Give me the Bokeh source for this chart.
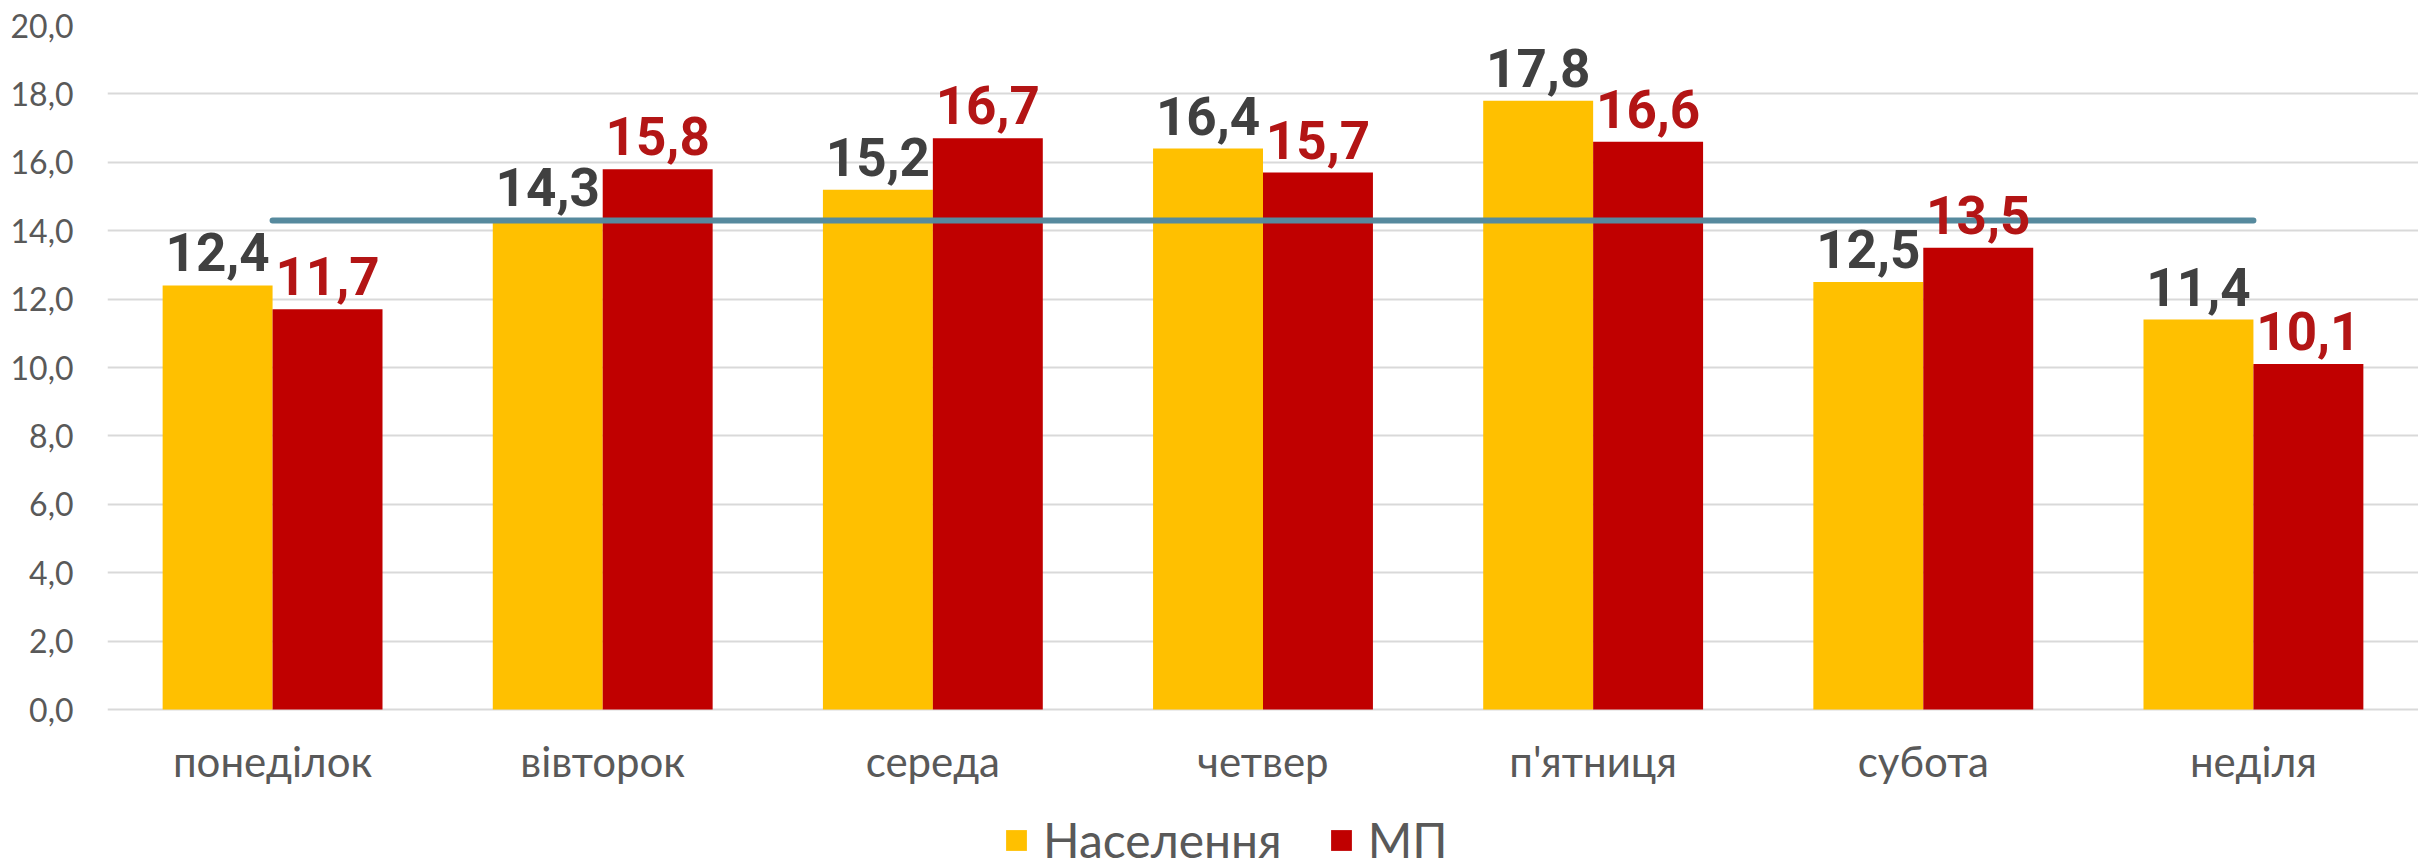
from bokeh.plotting import figure
from bokeh.models import (FactorRange, ColumnDataSource, Legend, LegendItem,
                          FixedTicker)
from bokeh.transform import dodge
from bokeh.core.properties import value
from bokeh.embed import file_html
from bokeh.resources import INLINE

days = ["понеділок", "вівторок", "середа", "четвер", "п'ятниця", "субота", "неділя"]
population = [12.4, 14.3, 15.2, 16.4, 17.8, 12.5, 11.4]
mp = [11.7, 15.8, 16.7, 15.7, 16.6, 13.5, 10.1]
average_line = [14.3] * 7
y_ticks = [0, 2, 4, 6, 8, 10, 12, 14, 16, 18, 20]
y_tick_labels = ["0,0", "2,0", "4,0", "6,0", "8,0", "10,0", "12,0", "14,0", "16,0", "18,0", "20,0"]
series_names = ["Населення", "МП"]

def fmt(v):
    return f"{v:.1f}".replace(".", ",")

src = ColumnDataSource(dict(
    day=days, pop=population, mp=mp, avg=average_line,
    pop_lbl=[fmt(v) for v in population], mp_lbl=[fmt(v) for v in mp],
))

AXIS_FONT = "Lato"

# layout: value area 684 px tall for 0..20; the frame extends below 0
# to hold the category labels and the legend.
VALUE_PX = 684
FRAME_H = 835
Y_TOP = 20
Y_BOTTOM = -(FRAME_H - VALUE_PX) * Y_TOP / VALUE_PX

p = figure(x_range=FactorRange(*days, range_padding=0, factor_padding=0),
           y_range=(Y_BOTTOM, Y_TOP), frame_width=2311, frame_height=FRAME_H,
           output_backend="svg", toolbar_location=None,
           min_border_left=107, min_border_right=0, min_border_top=25,
           min_border_bottom=0)
p.outline_line_color = None
p.background_fill_color = "white"
p.border_fill_color = "white"

bw = 0.333
r_pop = p.vbar(x=dodge("day", -bw / 2, range=p.x_range), top="pop", width=bw,
               source=src, fill_color="#FFC000", line_color=None)
r_mp = p.vbar(x=dodge("day", bw / 2, range=p.x_range), top="mp", width=bw,
              source=src, fill_color="#C00000", line_color=None)

p.line(x="day", y="avg", source=src, line_color="#568A9E", line_width=6,
       line_cap="round")

p.text(x=dodge("day", -bw / 2, range=p.x_range), y="pop", text="pop_lbl",
       source=src, text_align="center", text_baseline="bottom",
       y_offset=-14, text_font=value("Roboto"), text_font_style="bold",
       text_font_size="53px", text_color="#404040")
p.text(x=dodge("day", bw / 2, range=p.x_range), y="mp", text="mp_lbl",
       source=src, text_align="center", text_baseline="bottom",
       y_offset=-14, text_font=value("Roboto"), text_font_style="bold",
       text_font_size="53px", text_color="#B31515")

# grid
p.xgrid.grid_line_color = None
p.ygrid.grid_line_color = "#D9D9D9"
p.ygrid.grid_line_width = 2

# y axis
p.yaxis.ticker = FixedTicker(ticks=y_ticks)
p.yaxis.major_label_overrides = {t: l for t, l in zip(y_ticks, y_tick_labels)}
p.yaxis.axis_line_color = None
p.yaxis.major_tick_line_color = None
p.yaxis.minor_tick_line_color = None
p.yaxis.major_label_standoff = 28
p.yaxis.major_label_text_font = AXIS_FONT
p.yaxis.major_label_text_font_size = "32px"
p.yaxis.major_label_text_color = "#595959"

# x axis, drawn at the zero line
p.xaxis.fixed_location = 0
p.xaxis.axis_line_color = None
p.xaxis.major_tick_line_color = None
p.xaxis.minor_tick_line_color = None
p.xaxis.major_label_standoff = 20
p.xaxis.major_label_text_font = AXIS_FONT
p.xaxis.major_label_text_font_size = "42px"
p.xaxis.major_label_text_color = "#595959"

legend = Legend(items=[LegendItem(label=series_names[0], renderers=[r_pop]),
                       LegendItem(label=series_names[1], renderers=[r_mp])],
                orientation="horizontal", location=(896, -8),
                margin=0, padding=0, spacing=46,
                glyph_width=26, glyph_height=26, label_standoff=14,
                label_text_font=AXIS_FONT, label_text_font_size="48px",
                label_text_color="#595959", border_line_color=None,
                background_fill_alpha=0)
p.add_layout(legend, "center")

open("out.html", "w").write(file_html(p, INLINE))
